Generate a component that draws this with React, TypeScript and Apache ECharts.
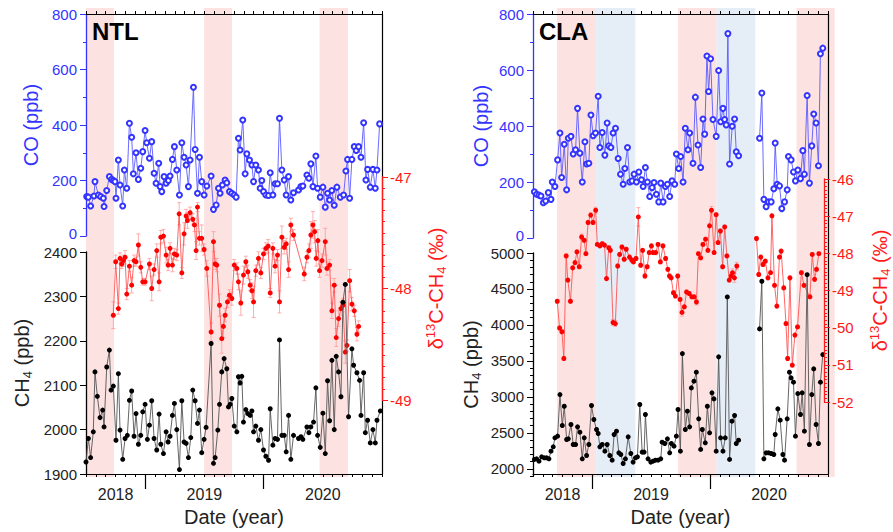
import React, { useEffect, useRef } from "react";
import * as echarts from "echarts";

// ---------- x axis (months from the left edge of each panel) ----------
const yearTickMonths = [6, 18];
const yearLabelMonths = [3, 12, 24];
const yearLabels = ["2018", "2019", "2020"];

// ---------- NTL ----------
const ntlCoMonth = [0.07,0.24,0.47,0.81,0.91,1.25,1.49,1.76,1.83,2.10,2.37,2.60,2.77,2.94,3.04,3.28,3.45,3.72,3.89,4.13,4.40,4.63,4.80,5.07,5.31,5.55,5.75,5.99,6.15,6.43,6.66,6.90,7.10,7.37,7.51,7.68,7.91,8.12,8.35,8.52,8.76,8.96,9.20,9.47,9.71,9.94,10.15,10.38,10.55,10.89,11.06,11.30,11.50,11.73,11.97,12.24,12.68,12.92,13.19,13.43,13.59,13.83,14.10,14.27,14.54,14.78,15.02,15.22,15.45,15.62,15.89,16.13,16.30,16.57,16.81,16.98,17.21,17.48,17.65,17.82,17.99,18.23,18.50,18.67,18.94,19.17,19.41,19.61,19.85,20.09,20.29,20.53,20.76,21.03,21.54,21.78,21.98,22.39,22.59,22.79,23.00,23.30,23.47,23.74,24.01,24.25,24.48,24.69,24.92,25.16,25.43,25.77,26.11,26.34,26.51,26.72,26.95,27.19,27.39,27.63,27.87,28.14,28.37,28.54,28.81,29.08,29.32,29.49,29.76];
const ntlCoPpb = [142,140,108,144,196,148,142,136,106,164,214,204,200,196,136,274,184,108,238,172,406,356,224,300,204,244,304,380,336,280,340,226,190,262,178,160,214,190,200,216,276,322,238,148,336,284,256,178,274,536,312,154,284,196,148,180,216,96,112,172,154,184,202,192,160,154,148,140,352,310,418,224,296,274,256,196,256,238,172,200,160,148,146,228,148,188,188,424,238,202,148,214,130,156,166,178,180,220,208,260,178,288,172,140,176,104,154,130,164,111,176,140,148,234,276,136,276,322,308,322,284,408,202,240,176,240,172,238,404];

const ntlCh4Month = [0.00,0.24,0.47,0.74,0.91,1.15,1.42,1.69,1.83,2.10,2.37,2.54,2.77,3.04,3.28,3.45,3.72,3.96,4.19,4.40,4.63,4.87,5.07,5.31,5.55,5.75,5.99,6.22,6.43,6.66,6.90,7.17,7.41,7.58,7.85,8.12,8.32,8.52,8.76,8.96,9.20,9.47,9.71,9.94,10.15,10.38,10.62,10.82,11.06,11.30,11.50,11.73,11.97,12.17,12.68,12.92,13.09,13.36,13.53,13.76,14.00,14.27,14.44,14.61,14.78,15.02,15.29,15.45,15.62,15.79,15.96,16.20,16.40,16.64,16.81,16.98,17.21,17.48,17.72,17.99,18.23,18.50,18.67,18.94,19.17,19.41,19.61,19.85,20.09,20.29,20.53,20.76,21.03,21.54,21.78,21.98,22.39,22.59,22.79,23.06,23.30,23.47,23.74,24.01,24.25,24.48,24.69,24.92,25.16,25.36,25.60,25.84,26.04,26.28,26.61,26.95,27.12,27.46,27.73,27.87,28.14,28.31,28.54,28.81,29.08,29.32,29.49,29.83];
const ntlCh4Ppb = [1927,1980,1937,1995,2130,2075,2027,2044,2006,2141,2179,2089,2098,1976,2126,1999,1933,1980,1987,2066,2087,1985,2036,1967,1987,2040,2057,1978,2010,2065,1980,1954,2035,1967,1946,1995,1972,1985,2032,2059,2000,1910,2065,1972,1969,1937,1982,2089,2065,2014,2044,1948,1978,2005,2194,1924,1937,1999,2057,2130,2160,2137,2051,2057,2070,2008,1995,2119,2105,2120,2017,2045,2036,2032,2042,1995,2008,1976,2000,1954,1940,1931,2047,1965,1980,1978,2202,1987,1987,1950,2032,1933,1987,1980,1984,1978,2006,1993,2006,2017,2094,1987,1960,2037,1946,2110,2020,2156,2000,2165,2130,2074,2287,2327,2029,2182,2145,2128,2111,2032,2128,1993,2021,1970,2000,1970,2021,2042];

const ntlD13cMonth = [2.77,3.01,3.28,3.45,3.62,3.79,3.96,4.13,4.40,4.63,4.87,5.07,5.31,5.55,5.75,5.99,6.43,6.66,6.90,7.17,7.41,7.58,7.85,8.12,8.32,8.52,8.76,8.96,9.20,9.44,9.71,9.94,10.15,10.28,10.55,10.82,10.99,11.16,11.30,11.50,11.73,11.97,12.24,12.68,12.92,13.09,13.26,13.53,13.76,13.93,14.10,14.34,14.54,14.78,15.02,15.29,15.45,15.69,15.96,16.20,16.40,16.64,16.81,16.98,17.21,17.48,17.72,17.99,18.23,18.46,18.67,18.94,19.17,19.41,19.61,19.85,20.09,20.29,20.53,20.76,21.03,22.12,22.39,22.59,22.79,23.00,23.17,23.33,23.50,23.67,23.91,24.25,24.42,24.69,24.92,25.16,25.36,25.60,25.84,26.04,26.28,26.45,26.72,26.95,27.19,27.46,27.63];
const ntlD13c = [-48.24,-47.76,-48.18,-47.73,-47.78,-47.75,-47.72,-48.05,-47.80,-47.97,-47.75,-47.76,-47.61,-47.81,-47.94,-47.94,-47.78,-48.00,-47.83,-47.66,-47.94,-47.54,-47.53,-47.70,-47.79,-47.64,-47.79,-47.69,-47.70,-47.33,-47.86,-47.51,-47.35,-47.39,-47.32,-47.38,-47.43,-47.66,-47.27,-47.55,-47.55,-47.65,-47.82,-48.39,-47.58,-47.78,-47.79,-48.15,-48.45,-48.34,-48.24,-48.12,-48.06,-48.09,-47.79,-47.82,-47.94,-48.13,-47.88,-47.76,-47.85,-47.97,-48.02,-48.12,-47.84,-47.73,-47.86,-47.69,-47.64,-47.62,-48.04,-47.64,-47.80,-47.70,-48.12,-47.54,-47.63,-47.60,-47.83,-47.43,-47.52,-47.87,-47.72,-47.66,-47.52,-47.43,-47.49,-47.73,-47.57,-47.84,-47.75,-47.58,-47.82,-47.79,-48.20,-47.97,-48.44,-48.27,-48.18,-48.15,-48.57,-48.51,-47.93,-48.14,-48.20,-48.41,-48.34];
const ntlD13cErr = [0.12,0.06,0.05,0.05,0.04,0.05,0.06,0.05,0.05,0.07,0.05,0.04,0.10,0.05,0.03,0.03,0.05,0.11,0.05,0.06,0.08,0.06,0.06,0.07,0.05,0.05,0.06,0.05,0.05,0.10,0.05,0.10,0.06,0.07,0.05,0.05,0.06,0.08,0.04,0.06,0.12,0.05,0.07,0.08,0.09,0.05,0.06,0.10,0.13,0.10,0.06,0.05,0.05,0.06,0.05,0.05,0.07,0.11,0.08,0.05,0.06,0.05,0.07,0.14,0.05,0.06,0.05,0.05,0.05,0.06,0.04,0.05,0.06,0.05,0.10,0.10,0.06,0.05,0.07,0.06,0.05,0.06,0.05,0.06,0.12,0.12,0.10,0.07,0.10,0.06,0.06,0.12,0.06,0.05,0.07,0.06,0.08,0.07,0.06,0.06,0.10,0.05,0.10,0.06,0.05,0.06,0.05];

const ntlPinkBands = [[0, 2.84], [11.97, 14.8], [23.67, 26.55]];
const ntlBlueBands: number[][] = [];

// ---------- CLA (null = no sample, the line is broken there) ----------
const claCoMonth = [0.14,0.37,0.61,0.81,1.05,1.29,1.56,1.83,1.96,2.23,2.50,2.74,2.91,3.18,3.42,3.59,3.86,4.09,4.33,4.53,4.77,5.01,5.28,5.45,5.68,5.89,6.12,6.36,6.63,6.80,7.04,7.31,7.54,7.71,7.92,8.15,8.39,8.66,8.90,9.17,9.34,9.61,9.84,10.08,10.28,10.52,10.76,11.03,11.20,11.43,11.64,11.87,12.11,12.31,12.55,12.79,12.99,13.23,13.46,13.67,13.90,14.14,14.41,14.58,14.82,15.02,15.26,15.49,15.76,15.93,16.27,16.51,16.78,17.05,17.29,17.46,17.69,17.86,18.06,18.30,18.63,18.88,19.08,19.32,19.49,19.65,19.82,19.99,20.26,20.50,20.67,20.91,22.0,23.04,23.27,23.48,23.71,23.95,24.22,24.49,24.63,24.83,25.07,25.30,25.58,25.85,25.98,26.25,26.49,26.69,26.93,27.20,27.44,27.60,27.88,28.11,28.35,28.55,28.79,29.03,29.23,29.47];
const claCoPpb = [165,156,153,150,126,132,162,138,200,184,279,375,216,335,172,356,363,300,315,463,303,200,344,264,267,439,365,375,506,323,377,296,411,329,323,375,392,284,228,192,248,323,200,204,228,200,236,208,184,252,200,148,180,198,156,129,196,129,184,192,148,204,192,300,248,291,200,392,315,375,267,503,332,252,425,371,650,523,640,423,363,598,415,463,423,404,730,264,399,425,308,294,null,356,518,138,112,129,129,176,339,192,186,105,129,172,291,279,236,204,243,212,312,228,509,196,329,443,411,258,658,678];

const claCh4Month = [0.14,0.37,0.61,0.88,1.15,1.39,1.62,1.83,2.06,2.23,2.50,2.74,2.98,3.18,3.42,3.59,3.86,4.09,4.33,4.53,4.77,5.01,5.21,5.45,5.68,5.95,6.19,6.46,6.63,6.80,7.04,7.31,7.54,7.81,8.05,8.25,8.49,8.73,8.93,9.17,9.40,9.68,9.95,10.18,10.42,10.62,10.86,11.10,11.30,11.43,11.70,11.98,12.21,12.45,12.72,12.99,13.13,13.40,13.67,13.90,14.07,14.34,14.58,14.75,14.99,15.19,15.49,15.70,15.93,16.10,16.37,16.61,16.85,17.05,17.22,17.52,17.73,17.96,18.20,18.40,18.63,18.88,19.08,19.32,19.55,19.76,19.99,20.23,20.50,20.67,20.91,22.0,23.04,23.27,23.48,23.71,23.95,24.22,24.49,24.63,24.90,25.14,25.41,25.58,25.85,26.08,26.25,26.49,26.69,26.93,27.20,27.37,27.60,27.88,28.11,28.35,28.55,28.79,29.03,29.23,29.47];
const claCh4Ppb = [2130,2139,2106,2167,2153,2153,2139,2245,2306,2431,2454,3032,2602,2870,2407,2417,2616,2338,2338,2583,2509,2139,2431,2185,2338,2880,2685,2546,2491,2306,2338,2245,2338,2185,2120,2477,2523,2222,2199,2074,2139,2444,2213,2093,2153,2167,2894,2232,2232,2755,2139,2093,2106,2120,2120,2139,2370,2352,2417,2222,2352,2315,2454,2824,2245,3602,2546,2801,2583,3125,3218,3343,2695,2269,2546,2361,2870,2500,3056,2972,2245,3556,2431,2245,2431,4389,2130,2662,2741,2352,2398,null,3945,4607,2139,2222,2222,2213,2199,2477,2833,2676,2199,2120,2695,3343,3264,3204,2454,3046,2755,3056,2523,4699,2338,3032,3389,2616,2352,3204,3588];

const claD13cMonth = [2.50,2.74,2.98,3.18,3.42,3.59,3.86,4.09,4.33,4.53,4.77,5.01,5.28,5.45,5.68,5.95,6.19,6.46,6.63,6.90,7.14,7.37,7.58,7.81,7.98,8.25,8.49,8.73,8.93,9.17,9.40,9.61,9.95,10.18,10.35,10.62,10.86,11.10,11.30,11.54,11.77,11.98,12.21,12.38,12.65,12.89,13.13,13.40,13.67,13.90,14.07,14.24,14.48,14.68,14.92,15.16,15.36,15.60,15.83,16.10,16.37,16.61,16.85,17.05,17.29,17.52,17.79,18.03,18.20,18.40,18.67,18.88,19.08,19.32,19.55,19.76,19.99,20.23,20.43,20.57,20.77,21.01,22.0,23.04,23.27,23.48,23.71,23.95,24.22,24.49,24.63,24.90,25.14,25.41,25.58,25.85,26.08,26.25,26.49,26.73,27.00,27.27,27.67,27.94,28.55,28.79,29.03,29.23,29.47];
const claD13c = [-49.29,-50.01,-50.11,-50.83,-48.07,-48.72,-49.29,-48.39,-48.25,-47.96,-48.36,-47.56,-47.65,-48.01,-47.17,-46.97,-47.17,-46.84,-47.76,-47.80,-47.74,-47.78,-48.68,-47.85,-47.92,-49.86,-49.89,-48.34,-48.03,-47.83,-48.16,-47.89,-48.10,-48.18,-48.23,-48.14,-47.02,-48.32,-47.92,-48.61,-48.36,-47.98,-47.80,-47.98,-47.98,-47.76,-48.23,-47.80,-48.14,-48.43,-48.61,-48.66,-49.06,-49.15,-48.61,-49.24,-49.59,-49.44,-49.04,-49.08,-49.17,-49.17,-49.31,-48.01,-48.12,-47.76,-47.62,-47.92,-47.26,-46.84,-47.98,-46.96,-47.71,-47.40,-48.36,-47.29,-48.07,-48.72,-48.61,-48.52,-48.66,-48.34,null,-47.60,-48.57,-48.10,-48.30,-48.21,-48.66,-48.52,-46.99,-48.86,-49.42,-48.10,-47.94,-48.93,-49.89,-50.83,-48.66,-51.01,-50.20,-49.98,-48.52,-48.86,-49.17,-48.03,-48.70,-48.43,-48.01];
const claD13cErr = [0.05,0.05,0.05,0.05,0.06,0.05,0.05,0.05,0.05,0.05,0.05,0.08,0.05,0.05,0.05,0.06,0.05,0.08,0.05,0.05,0.05,0.05,0.05,0.05,0.05,0.08,0.08,0.05,0.05,0.05,0.05,0.05,0.06,0.05,0.05,0.05,0.25,0.05,0.05,0.06,0.05,0.05,0.05,0.05,0.06,0.05,0.05,0.05,0.05,0.05,0.05,0.05,0.05,0.05,0.05,0.05,0.10,0.05,0.05,0.05,0.05,0.05,0.08,0.05,0.05,0.05,0.05,0.05,0.05,0.10,0.05,0.05,0.05,0.05,0.05,0.05,0.05,0.05,0.05,0.10,0.12,0.10,null,0.05,0.05,0.05,0.05,0.05,0.05,0.05,0.05,0.05,0.05,0.05,0.05,0.05,0.05,0.05,0.05,0.05,0.05,0.05,0.05,0.05,0.05,0.05,0.05,0.05,0.05];

const claPinkBands = [[2.44, 6.42], [14.75, 18.67], [26.8, 30.68]];
const claBlueBands = [[6.42, 10.41], [18.67, 22.6]];

// ---------- axis tick values ----------
const ntlCh4Ticks = [1900, 2000, 2100, 2200, 2300, 2400];
const claCh4Ticks = [2000, 2500, 3000, 3500, 4000, 4500, 5000];

const FONT = "'Liberation Sans', Arial, Helvetica, sans-serif";
const BLUE = "#3434ff";
const BLUE_LINE = "#5a5aff";
const RED = "#ff1a1a";
const RED_LINE = "#ff5555";
const ERR = "#ff9a9a";
const INK = "#222";
const PINK = "#fde2e2";
const SKY = "#e5edf7";
const LABEL_SIZE = 15;

const plain = (v: number) => String(v);
// the CO "0" label sits just above the CH4 top label: lift it a little
const coLabel = (v: number) => (v === 0 ? "{z|0}" : String(v));

function pairs(xs: number[], ys: (number | null)[]) {
  const n = Math.min(xs.length, ys.length);
  const out: any[] = [];
  for (let i = 0; i < n; i++) out.push([xs[i], ys[i] == null ? "-" : ys[i]]);
  return out;
}
function triples(xs: number[], ys: (number | null)[], es: (number | null)[]) {
  const n = Math.min(xs.length, ys.length, es.length);
  const out: any[] = [];
  for (let i = 0; i < n; i++) if (ys[i] != null && es[i] != null) out.push([xs[i], ys[i], es[i]]);
  return out;
}

function addPanel(opt: any, p: any) {
  const gi = opt.grid.length;
  opt.grid.push(
    { left: p.left, top: p.coTop, width: p.width, height: p.coH },
    { left: p.left, top: p.ch4Top, width: p.width, height: p.ch4H },
    { left: p.left, top: p.redTop, width: p.width, height: p.redH },
    { left: p.left, top: p.frameTop, width: p.width, height: p.frameH }
  );
  const xi = opt.xAxis.length;
  const hiddenX = (g: number) => ({ type: "value", gridIndex: g, min: 0, max: 30, show: false });
  const monthAxis = (pos: string) => ({
    type: "value", gridIndex: gi + 3, position: pos, min: 0, max: 30, interval: 1,
    axisLine: { show: true, onZero: false, lineStyle: { color: "#000", width: 1.2 } },
    axisTick: { show: true, length: 3, lineStyle: { color: "#000", width: 1 } },
    axisLabel: { show: false }, splitLine: { show: false },
  });
  opt.xAxis.push(
    hiddenX(gi), hiddenX(gi + 1), hiddenX(gi + 2),
    monthAxis("bottom"), monthAxis("top"),
    {
      type: "value", gridIndex: gi + 3, position: "bottom", min: 0, max: 30,
      axisLine: { show: false, onZero: false },
      axisTick: { show: true, customValues: yearTickMonths, length: 15, lineStyle: { color: "#000", width: 1.2 } },
      axisLabel: {
        show: true, customValues: yearLabelMonths, margin: 12, fontSize: 16, color: INK, fontFamily: FONT,
        formatter: (v: number) => { const i = yearLabelMonths.indexOf(Math.round(v)); return i >= 0 ? yearLabels[i] : ""; },
      },
      splitLine: { show: false },
      name: "Date (year)", nameLocation: "middle", nameGap: 33,
      nameTextStyle: { fontSize: 20, color: INK, fontFamily: FONT },
    }
  );
  const yi = opt.yAxis.length;
  opt.yAxis.push(
    {
      type: "value", gridIndex: gi, position: "left", min: 0, max: 800, interval: 200,
      axisLine: { show: true, onZero: false, lineStyle: { color: BLUE, width: 1.3 } },
      axisTick: { show: true, length: 6, lineStyle: { color: BLUE } },
      minorTick: { show: true, splitNumber: 2, length: 3, lineStyle: { color: BLUE } },
      axisLabel: {
        color: BLUE, fontSize: LABEL_SIZE, margin: 9, fontFamily: FONT, formatter: coLabel,
        rich: { z: { color: BLUE, fontSize: LABEL_SIZE, fontFamily: FONT, padding: [0, 0, 5, 0] } },
      },
      splitLine: { show: false }, minorSplitLine: { show: false },
      name: "CO (ppb)", nameLocation: "middle", nameGap: p.coGap,
      nameTextStyle: { fontSize: 20, color: BLUE, fontFamily: FONT },
    },
    {
      type: "value", gridIndex: gi + 1, position: "left", min: p.ch4Min, max: p.ch4Max, interval: 100,
      axisLine: { show: true, onZero: false, lineStyle: { color: "#000", width: 1.3 } },
      axisTick: { show: true, length: p.ch4MinorLen, lineStyle: { color: "#000" } },
      axisLabel: { show: false }, splitLine: { show: false },
    },
    {
      type: "value", gridIndex: gi + 1, position: "left", min: p.ch4Min, max: p.ch4Max,
      axisLine: { show: false, onZero: false },
      axisTick: { show: true, customValues: p.ch4Ticks, length: 6, lineStyle: { color: "#000" } },
      axisLabel: { show: true, customValues: p.ch4Ticks, color: INK, fontSize: LABEL_SIZE, margin: 9, fontFamily: FONT, formatter: plain },
      splitLine: { show: false },
      name: "{a|CH}{b|4}{a| (ppb)}", nameLocation: "middle", nameGap: p.ch4Gap,
      nameTextStyle: {
        color: INK, fontFamily: FONT,
        rich: {
          a: { fontSize: 20, color: INK, fontFamily: FONT, verticalAlign: "middle", lineHeight: 24 },
          b: { fontSize: 13, color: INK, fontFamily: FONT, verticalAlign: "bottom", lineHeight: 24 },
        },
      },
    },
    {
      type: "value", gridIndex: gi + 2, position: "right", min: p.redMin, max: p.redMax, interval: 1, z: 5,
      axisLine: { show: true, onZero: false, lineStyle: { color: RED, width: 1.3 } },
      axisTick: { show: true, length: 6, lineStyle: { color: RED } },
      minorTick: { show: true, splitNumber: 10, length: 3, lineStyle: { color: RED } },
      axisLabel: { color: RED, fontSize: LABEL_SIZE, margin: 8, fontFamily: FONT, formatter: plain },
      splitLine: { show: false }, minorSplitLine: { show: false },
      name: "{a|δ}{s|13}{a|C-CH}{b|4}{a| (‰)}", nameLocation: "middle", nameGap: p.redGap, nameRotate: 90,
      nameTextStyle: {
        color: RED, fontFamily: FONT,
        rich: {
          a: { fontSize: 20, color: RED, fontFamily: FONT, verticalAlign: "middle", lineHeight: 24 },
          s: { fontSize: 13, color: RED, fontFamily: FONT, verticalAlign: "top", lineHeight: 24 },
          b: { fontSize: 13, color: RED, fontFamily: FONT, verticalAlign: "bottom", lineHeight: 24 },
        },
      },
    },
    {
      type: "value", gridIndex: gi + 3, position: "right", min: 0, max: 1, z: 1,
      axisLine: { show: true, onZero: false, lineStyle: { color: "#000", width: 1.2 } },
      axisTick: { show: false }, axisLabel: { show: false }, splitLine: { show: false },
    }
  );

  const bands = [
    ...p.pink.map((b: number[]) => [b[0], b[1], 0]),
    ...p.blue.map((b: number[]) => [b[0], b[1], 1]),
  ];
  opt.series.push(
    {
      type: "custom", xAxisIndex: xi + 3, yAxisIndex: yi + 4, data: bands, clip: false, silent: true, z: 0,
      encode: { x: [0, 1] },
      renderItem: (params: any, api: any) => {
        const x0 = api.coord([api.value(0), 0])[0];
        const x1 = api.coord([api.value(1), 0])[0];
        const cs = params.coordSys;
        return {
          type: "rect",
          shape: { x: x0, y: cs.y - 6, width: x1 - x0, height: cs.height + 9 },
          style: { fill: api.value(2) === 1 ? SKY : PINK },
        };
      },
    },
    {
      type: "custom", xAxisIndex: xi + 2, yAxisIndex: yi + 3, data: triples(p.redX, p.redY, p.redE), clip: false, silent: true, z: 2,
      encode: { x: 0, y: 1 },
      renderItem: (_params: any, api: any) => {
        const x = api.value(0), y = api.value(1), e = api.value(2);
        const t = api.coord([x, y + e]);
        const b = api.coord([x, y - e]);
        const st = { stroke: ERR, lineWidth: 0.8 };
        return {
          type: "group",
          children: [
            { type: "line", shape: { x1: t[0], y1: t[1], x2: b[0], y2: b[1] }, style: st },
            { type: "line", shape: { x1: t[0] - 2, y1: t[1], x2: t[0] + 2, y2: t[1] }, style: st },
            { type: "line", shape: { x1: b[0] - 2, y1: b[1], x2: b[0] + 2, y2: b[1] }, style: st },
          ],
        };
      },
    },
    {
      type: "line", xAxisIndex: xi + 2, yAxisIndex: yi + 3, data: pairs(p.redX, p.redY), z: 3,
      symbol: "circle", symbolSize: 5, showSymbol: true, connectNulls: false,
      itemStyle: { color: "#ff0000" }, lineStyle: { color: RED_LINE, width: 0.9 }, silent: true,
    },
    {
      type: "line", xAxisIndex: xi + 1, yAxisIndex: yi + 1, data: pairs(p.ch4X, p.ch4Y), z: 4,
      symbol: "circle", symbolSize: 5, showSymbol: true, connectNulls: false,
      itemStyle: { color: "#000" }, lineStyle: { color: "#555", width: 0.9 }, silent: true,
    },
    {
      type: "line", xAxisIndex: xi, yAxisIndex: yi, data: pairs(p.coX, p.coY), z: 4,
      symbol: "emptyCircle", symbolSize: 5, showSymbol: true, connectNulls: false,
      itemStyle: { color: BLUE, borderColor: BLUE, borderWidth: 1.1 }, lineStyle: { color: BLUE_LINE, width: 0.9 }, silent: true,
    }
  );
  opt.graphic.push({
    type: "text", x: p.left + 6, y: 19, z: 10,
    style: { text: p.title, fontSize: 24, fontWeight: "bold", fill: "#000", fontFamily: FONT },
  });
}

export default function App() {
  const ref = useRef<HTMLDivElement>(null);
  useEffect(() => {
    if (!ref.current) return;
    const chart = echarts.init(ref.current, undefined, { renderer: "svg" });
    const opt: any = { animation: false, backgroundColor: "#fff", grid: [], xAxis: [], yAxis: [], series: [], graphic: [] };
    addPanel(opt, {
      title: "NTL", left: 86, width: 296,
      coTop: 14, coH: 222, ch4Top: 252, ch4H: 222, redTop: 177, redH: 223, frameTop: 14, frameH: 460,
      ch4Min: 1900, ch4Max: 2400, ch4Ticks: ntlCh4Ticks, ch4MinorLen: 6,
      redMin: -49, redMax: -47,
      coGap: 45, ch4Gap: 52, redGap: 42,
      pink: ntlPinkBands, blue: ntlBlueBands,
      coX: ntlCoMonth, coY: ntlCoPpb, ch4X: ntlCh4Month, ch4Y: ntlCh4Ppb,
      redX: ntlD13cMonth, redY: ntlD13c, redE: ntlD13cErr,
    });
    addPanel(opt, {
      title: "CLA", left: 533, width: 295,
      coTop: 14, coH: 224, ch4Top: 253, ch4H: 223, redTop: 179, redH: 223, frameTop: 14, frameH: 462,
      ch4Min: 1900, ch4Max: 5000, ch4Ticks: claCh4Ticks, ch4MinorLen: 3,
      redMin: -52, redMax: -46,
      coGap: 42, ch4Gap: 50, redGap: 44,
      pink: claPinkBands, blue: claBlueBands,
      coX: claCoMonth, coY: claCoPpb, ch4X: claCh4Month, ch4Y: claCh4Ppb,
      redX: claD13cMonth, redY: claD13c, redE: claD13cErr,
    });
    chart.setOption(opt);
    return () => chart.dispose();
  }, []);
  return <div ref={ref} style={{ position: "fixed", left: 0, top: 0, width: 893, height: 532 }} />;
}
